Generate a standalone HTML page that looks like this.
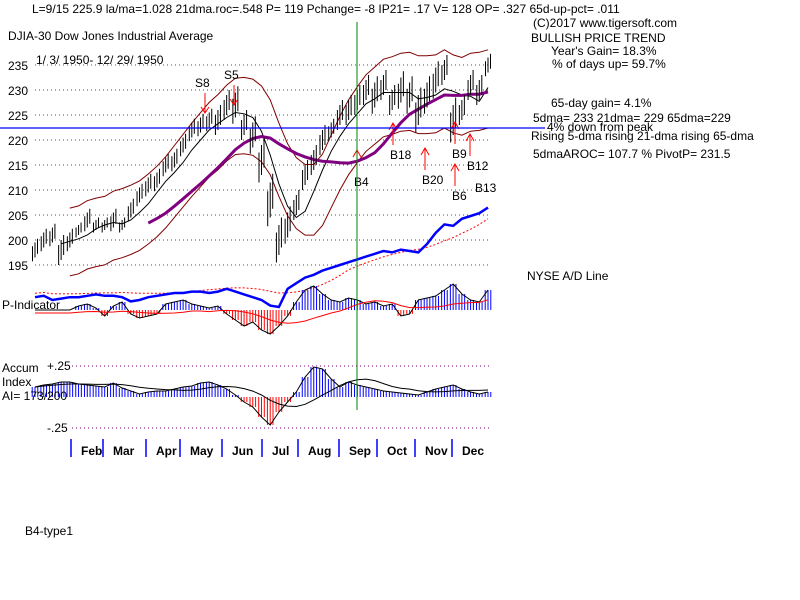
<!DOCTYPE html>
<html><head><meta charset="utf-8"><style>
html,body{margin:0;padding:0;background:#fff;width:800px;height:600px;overflow:hidden}
svg{display:block}
text{font-family:"Liberation Sans",Arial,sans-serif;font-size:12px;fill:#000}
</style></head><body>
<svg id="chart" width="800" height="600" viewBox="0 0 800 600" xmlns="http://www.w3.org/2000/svg">
<rect width="800" height="600" fill="#fff"/>
<g id="grid"></g>
<g id="marks"></g>
<g>
<text x="32" y="13">L=9/15  225.9  la/ma=1.028 21dma.roc=.548 P=  119 Pchange= -8 IP21= .17  V= 128  OP= .327 65d-up-pct= .011</text>
<text x="8" y="40">DJIA-30  Dow Jones Industrial Average</text>
<text x="36" y="64">1/ 3/ 1950- 12/ 29/ 1950</text>
<text x="533" y="27">(C)2017 www.tigersoft.com</text>
<text x="531" y="42">BULLISH PRICE TREND</text>
<text x="551" y="55">Year's Gain= 18.3%</text>
<text x="552" y="68">% of days up= 59.7%</text>
<text x="551" y="107">65-day gain= 4.1%</text>
<text x="533" y="122">5dma= 233 21dma= 229 65dma=229</text>
<text x="547" y="131">4% down from peak</text>
<text x="531" y="140">Rising 5-dma rising 21-dma rising 65-dma</text>
<text x="533" y="158">5dmaAROC= 107.7 %  PivotP= 231.5</text>
<text x="527" y="280">NYSE A/D Line</text>
<text x="2" y="309">P-Indicator</text>
<text x="2" y="372">Accum</text>
<text x="47" y="370">+.25</text>
<text x="2" y="386">Index</text>
<text x="2" y="400">AI= 173/200</text>
<text x="47" y="432">-.25</text>
<text x="25" y="535">B4-type1</text>
</g>
<script>
const months=["Feb","Mar","Apr","May","Jun","Jul","Aug","Sep","Oct","Nov","Dec"];
const monthTicks=[71,103,146,180,222,262,298,339,377,415,452];
const priceTicks=[195,200,205,210,215,220,225,230,235];
const closes=[198,200,201,198,200,202,204,203,203,204,203,206,209,211,212,215,216,219,222,223,224,224,227,227,223,221,216,208,200,203,207,213,216,220,222,225,226,228,230,229,231,228,230,229,226,229,232,234,224,226,231,230,235];
const ranges=[3,3,3,4,3,2,3,2,2,3,2,3,3,3,3,3,3,3,3,3,3,4,4,5,4,5,6,7,6,5,4,4,4,4,3,4,4,4,4,5,4,4,5,5,6,5,5,4,6,4,4,4,3];
const adLine=[2,3,0,1,2,2,3,4,3,3,2,-1,0,2,3,4,5,5,6,6,5,6,8,6,4,2,0,-4,-5,8,12,16,18,21,23,25,27,29,31,33,35,34,36,35,34,40,48,54,53,58,60,62,66];
const pInd=[0,0,0,0,0,2,3,1,-3,2,4,-2,-4,-3,-2,3,4,5,3,2,1,2,-2,-5,-8,-6,-10,-12,-8,-3,4,10,12,8,5,4,6,5,3,4,2,3,-3,-2,5,6,7,10,13,8,5,4,10];
const accum=[10,12,13,15,15,13,12,11,10,14,9,6,3,5,6,6,8,10,11,14,15,12,8,2,-5,-10,-20,-28,-15,-5,5,20,30,28,18,10,15,12,10,8,6,5,4,3,2,5,8,10,12,8,5,3,5];
const signals=[["S8",205,225.4,"down"],["S5",234,227,"down"],["B4",357,218,"up"],["B18",393,223.4,"up"],["B20",425,218.4,"up"],["B9",455,223.6,"up"],["B12",470,221.2,"up"],["B6",455,215.2,"up"],["B13",478,216.8,"none"]];

const NS="http://www.w3.org/2000/svg";
const grid=document.getElementById('grid'),marks=document.getElementById('marks');
const X0=35,X1=488,N=closes.length;
const xAt=i=>X0+i*(X1-X0)/(N-1);
const yP=p=>140-(p-220)*5;
const yAD=v=>300-v*1.4;
const PB=310,AB=397;
function el(tag,attrs,parent){const e=document.createElementNS(NS,tag);for(const k in attrs)e.setAttribute(k,attrs[k]);(parent||marks).appendChild(e);return e;}
function ma(arr,n){return arr.map((v,i)=>{const s=arr.slice(Math.max(0,i-n+1),i+1);return s.reduce((a,b)=>a+b,0)/s.length;});}
function poly(pts,attrs,name){const p=el('polyline',Object.assign({points:pts.map(q=>q[0].toFixed(1)+','+q[1].toFixed(1)).join(' '),fill:'none'},attrs));return p;}

priceTicks.forEach(p=>{
  const l=el('line',{x1:35,x2:490,y1:yP(p),y2:yP(p),stroke:'#008000','stroke-dasharray':'1,3'},grid);
  
  
  const t=el('text',{x:8,y:yP(p)+5},grid);t.textContent=p;
  
  
});
[366,428].forEach(y=>{
  const l=el('line',{x1:72,x2:490,y1:y,y2:y,stroke:'#800080','stroke-dasharray':'1,3'},grid);
  
  
});
monthTicks.forEach((x,i)=>{
  const l=el('line',{x1:x,x2:x,y1:439,y2:457,stroke:'#0000ff','stroke-width':1.5},grid);
  
  
  const t=el('text',{x:x+10,y:455,'font-weight':'bold'},grid);t.textContent=months[i];
  
  
});

const m21=ma(closes,4),m65=ma(closes,13),mb=ma(closes,6);
poly(mb.map((v,i)=>[xAt(i),yP(v*1.035)]).slice(4),{stroke:'#800000'},'upper-band');
poly(mb.map((v,i)=>[xAt(i),yP(v*0.967)]).slice(4),{stroke:'#800000'},'lower-band');
poly(m21.map((v,i)=>[xAt(i),yP(v)]).slice(3),{stroke:'#000'},'ma-21');
poly(m65.map((v,i)=>[xAt(i),yP(v)]).slice(13),{stroke:'#800080','stroke-width':3},'ma-65');

closes.forEach((c,i)=>{
  const x=xAt(i);
  [-2.5,0,2.5].forEach((o,k)=>{
    const cc=c+(k-1)*ranges[i]*0.25;
    const b=el('line',{x1:x+o,x2:x+o,y1:yP(cc+ranges[i]/2),y2:yP(cc-ranges[i]/2),stroke:'#000'});
    
    
  });
});

const adMa=ma(adLine,8);
poly(adMa.map((v,i)=>[xAt(i),yAD(v)-4]),{stroke:'#ff0000','stroke-dasharray':'2,2'},'ad-line-ma');
poly(adLine.map((v,i)=>[xAt(i),yAD(v)]),{stroke:'#0000ff','stroke-width':2.5},'ad-line');

pInd.forEach((v,i)=>{
  for(let k=0;k<3;k++){
    const x=xAt(i)+(k-1)*2.8;
    const b=el('line',{x1:x,x2:x,y1:PB,y2:PB-v*2,stroke:v>=0?'#0000ff':'#ff0000'});
    
    
  }
});
poly(pInd.map((v,i)=>[xAt(i),PB-v*2]),{stroke:'#000'},'p-indicator-outline');
const pMa=ma(pInd,10);
poly(pMa.map((v,i)=>[xAt(i),PB-v*2+3]),{stroke:'#ff0000'},'p-indicator-ma');

accum.forEach((v,i)=>{
  for(let k=0;k<3;k++){
    const x=xAt(i)+(k-1)*2.8;
    const b=el('line',{x1:x,x2:x,y1:AB,y2:AB-v,stroke:v>=0?'#0000ff':'#ff0000'});
    
    
  }
});
poly(accum.map((v,i)=>[xAt(i),AB-v]),{stroke:'#000'},'accum-outline');
poly(ma(accum,8).map((v,i)=>[xAt(i),AB-v]),{stroke:'#000'},'accum-ma');

signals.forEach(s=>{
  const x=s[1],y=yP(s[2]);
  if(s[3]==='down'){
    const a=el('path',{d:`M${x} ${y-20}V${y}M${x-4} ${y-6}L${x} ${y}L${x+4} ${y-6}`,stroke:'#ff0000',fill:'none'});
    
    
    const t=el('text',{x:x-10,y:y-26,'font-size':'15'});t.textContent=s[0];
    
    
  }else{
    if(s[3]==='up'){
      const a=el('path',{d:`M${x} ${y}V${y+22}M${x-4} ${y+7}L${x} ${y}L${x+4} ${y+7}`,stroke:'#ff0000',fill:'none'});
      
      
    }
    const t=el('text',{x:x-3,y:y+36,'font-size':'15'});t.textContent=s[0];
    
    
  }
});

const h=el('line',{x1:0,x2:545,y1:128,y2:128,stroke:'#0000ff','stroke-width':1.3});


const v=el('line',{x1:357,x2:357,y1:22,y2:410,stroke:'#008000'});


</script>
</svg>
</body></html>
